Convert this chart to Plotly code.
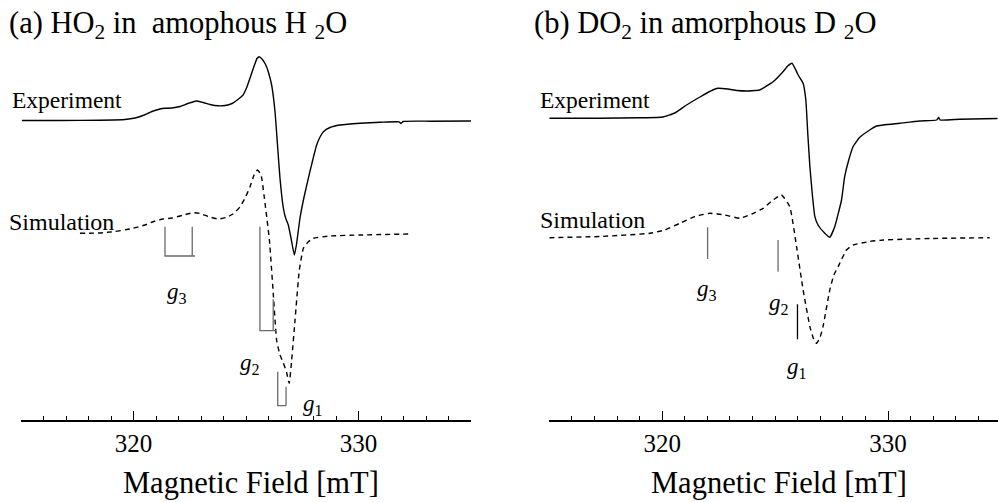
import plotly.graph_objects as go

# ---------------- data (field in mT, signal in arbitrary units, baseline-relative) ----------------
exp_a_field = [315.04, 316.73, 318.51, 319.62, 320.07, 320.42, 320.82, 321.18, 321.40, 321.71, 322.07,
               322.42, 322.78, 323.09, 323.40, 323.76, 324.07, 324.38, 324.64, 324.87, 325.04, 325.18,
               325.36, 325.49, 325.59, 325.71, 325.87, 325.99, 326.14, 326.29, 326.40, 326.51, 326.66,
               326.76, 326.88, 327.00, 327.15, 327.24, 327.40, 327.58, 327.84, 328.14, 328.29, 328.44,
               328.73, 329.18, 330.07, 330.96, 331.80, 331.89, 331.98, 333.18, 335.00]
exp_a_signal = [0, 0, 0.3, 1, 2.5, 5, 9, 11.5, 12.2, 12.5, 14,
                17, 19.5, 18, 16, 14.7, 15, 17, 21, 25.5, 33.5, 42.5,
                54.5, 62, 63.8, 61.5, 56, 48.8, 35.5, 8.8, -24.5, -57.5, -87.5,
                -97.5, -104.5, -117.5, -134.5, -124.5, -97.5, -76.5, -51.2, -24.5, -16.5, -11.2,
                -7, -4.5, -2.7, -1.8, -1.3, -3, -1, -0.7, -0.5]

sim_a_field = [317.62, 318.51, 319.18, 319.84, 320.51, 320.96, 321.31, 321.71, 322.16, 322.64, 322.96,
               323.31, 323.76, 324.11, 324.42, 324.73, 324.96, 325.18, 325.36, 325.51, 325.67, 325.80,
               326.04, 326.21, 326.36, 326.51, 326.66, 326.80, 326.92, 327.03, 327.18, 327.37, 327.55,
               327.76, 327.99, 328.73, 330.07, 332.29]
sim_a_signal = [0.7, 1, 2.5, 5, 9, 13, 15, 16, 18.5, 21.3, 20.5,
                17.5, 15, 16.5, 20, 27, 36, 47.3, 59, 64, 59, 39,
                -6, -59, -106, -121, -129, -138, -149.3, -126, -86, -36, -14.3,
                -8, -4.3, -2, -1, 0]

exp_b_field = [315.00, 317.24, 319.01, 320.03, 320.56, 321.08, 321.67, 322.24, 322.46, 322.91, 323.31,
               323.73, 324.10, 324.32, 324.91, 325.35, 325.56, 325.75, 326.02, 326.24, 326.36, 326.45,
               326.54, 326.65, 326.76, 326.90, 327.20, 327.42, 327.64, 327.94, 328.08, 328.26, 328.45,
               328.75, 329.19, 329.49, 330.52, 331.40, 332.15, 332.24, 332.31, 333.17, 334.85]
exp_b_signal = [0.2, 0.3, 0.7, 1.5, 5.5, 13.5, 21.5, 28.5, 30.2, 29.5, 28,
                27.5, 28, 28.5, 36.8, 46.8, 52.5, 55.2, 43.5, 35.2, 18.5, -16.5,
                -48.2, -76.5, -98.2, -106.5, -114.8, -118.8, -108.2, -81.5, -58.2, -41.5, -28.2,
                -18.8, -11.5, -7.5, -4.8, -2.5, -1.5, 1, -1.5, -0.8, 0]

sim_b_field = [315.00, 317.24, 319.46, 320.12, 320.78, 321.45, 322.11, 322.77, 323.44, 323.97, 324.47,
               324.85, 325.28, 325.65, 325.95, 326.24, 326.54, 326.69, 326.83, 326.98, 327.12, 327.42,
               327.60, 327.79, 328.16, 328.45, 329.19, 329.78, 331.85, 334.50]
sim_b_signal = [0, 1.2, 4.4, 7.7, 14.4, 21.2, 24.4, 22.7, 19.4, 23.7, 29.4,
                36.7, 42.7, 31, -9, -52.3, -89, -100.3, -105.6, -100.3, -89, -52.3,
                -37.3, -29, -12.3, -7.3, -3.8, -2.3, -0.8, 0]

# g-tensor marker fields (mT)
g_a_fields = {"g3": [321.40, 322.61], "g2": [325.62, 326.21], "g1": [326.41, 326.78]}
g_b_fields = {"g3": 322.01, "g2": 325.13, "g1": 325.99}

tick_vals = [320, 330]
tick_text = ["320", "330"]

# ---------------- layout constants ----------------
W, H = 998, 502
AXIS_PX = 420
EXP_A_OFF, SIM_A_OFF = 299.5, 186
EXP_B_OFF, SIM_B_OFF = 301.5, 182.3
SERIF = "Liberation Serif"
GRAY = "#6a6a6a"

fig = go.Figure()

def add_line(x, y, xa, ya, dash="solid", color="black", width=1.4):
    fig.add_trace(go.Scatter(x=x, y=y, xaxis=xa, yaxis=ya, mode="lines",
                             line=dict(color=color, width=width, dash=dash, shape="spline", smoothing=0.4),
                             hoverinfo="skip", showlegend=False))

def add_seg(x, y, xa, ya, color=GRAY, width=1.3):
    fig.add_trace(go.Scatter(x=x, y=y, xaxis=xa, yaxis=ya, mode="lines",
                             line=dict(color=color, width=width),
                             hoverinfo="skip", showlegend=False))

add_line(exp_a_field, [v + EXP_A_OFF for v in exp_a_signal], "x", "y")
add_line(sim_a_field, [v + SIM_A_OFF for v in sim_a_signal], "x", "y", dash="5px,4px")
add_line(exp_b_field, [v + EXP_B_OFF for v in exp_b_signal], "x2", "y2")
add_line(sim_b_field, [v + SIM_B_OFF for v in sim_b_signal], "x2", "y2", dash="5px,4px")

# brackets in panel (a): (top of left leg, top of right leg, bottom, bottom-line right end extra)
brackets_a = {"g3": (193.3, 193.3, 164.0, 0.12), "g2": (193.3, 120.7, 89.3, 0.12), "g1": (48.3, 33.3, 14.3, 0.0)}
for k, (tl, tr, bot, ext) in brackets_a.items():
    f0, f1 = g_a_fields[k]
    add_seg([f0, f0, f1 + ext, None, f1, f1], [tl, bot, bot, None, tr, bot], "x", "y")

# single lines in panel (b)
lines_b = {"g3": (192.7, 161.0, GRAY), "g2": (180.0, 148.3, GRAY), "g1": (115.7, 80.7, "black")}
for k, (top, bot, col) in lines_b.items():
    f = g_b_fields[k]
    add_seg([f, f], [top, bot], "x2", "y2", color=col)

ydom = [(H - AXIS_PX) / H, 1.0]
xcommon = dict(range=[315, 335], showgrid=False, zeroline=False, showline=True, linecolor="black",
               linewidth=1.5, ticks="inside", ticklen=9, tickwidth=1.3, tickcolor="black",
               tickvals=tick_vals, ticktext=tick_text,
               tickfont=dict(family=SERIF, size=25, color="black"),
               minor=dict(ticks="inside", ticklen=4, tickwidth=1.1, tickcolor="black", dtick=1, tick0=315,
                          showgrid=False))
ycommon = dict(range=[0, AXIS_PX], visible=False, showgrid=False, zeroline=False, domain=ydom)

fig.update_layout(
    width=W, height=H, autosize=False, margin=dict(l=0, r=0, t=0, b=0),
    paper_bgcolor="white", plot_bgcolor="white",
    font=dict(family=SERIF, color="black"),
    xaxis=dict(domain=[21 / W, 471 / W], anchor="y", **xcommon),
    yaxis=dict(anchor="x", **ycommon),
    xaxis2=dict(domain=[549.3 / W, 1.0], anchor="y2", **{**xcommon, "range": [315, 334.87]}),
    yaxis2=dict(anchor="x2", **ycommon),
)

def ann(text, px, py, size, xanchor="left"):
    fig.add_annotation(text=text, x=px / W, y=(H - py) / H, xref="paper", yref="paper",
                       xanchor=xanchor, yanchor="middle", showarrow=False,
                       font=dict(family=SERIF, size=size, color="black"))

ann("(a) HO<sub>2</sub> in&nbsp;&nbsp;amophous H <sub>2</sub>O", 7, 25, 30.5)
ann("(b) DO<sub>2</sub> in amorphous D <sub>2</sub>O", 532, 25, 30.5)
ann("Experiment", 10, 100, 23.5)
ann("Experiment", 538, 100, 23.5)
ann("Simulation", 7, 222, 24)
ann("Simulation", 538, 220, 24)
ann("<i>g</i><sub>3</sub>", 177, 293, 23, xanchor="center")
ann("<i>g</i><sub>2</sub>", 250, 364, 23, xanchor="center")
ann("<i>g</i><sub>1</sub>", 313, 405, 23, xanchor="center")
ann("<i>g</i><sub>3</sub>", 707, 290, 23, xanchor="center")
ann("<i>g</i><sub>2</sub>", 779, 304, 23, xanchor="center")
ann("<i>g</i><sub>1</sub>", 797, 368, 23, xanchor="center")
ann("Magnetic Field [mT]", 250.5, 483, 30.5, xanchor="center")
ann("Magnetic Field [mT]", 778.5, 483, 30.5, xanchor="center")

fig.write_html("out.html")
